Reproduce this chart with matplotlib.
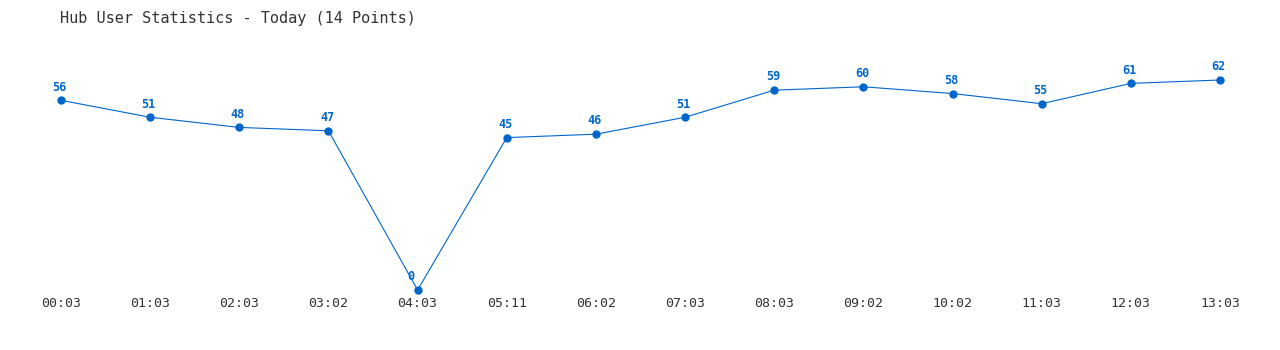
import matplotlib.pyplot as plt

times = ["00:03", "01:03", "02:03", "03:02", "04:03", "05:11", "06:02",
         "07:03", "08:03", "09:02", "10:02", "11:03", "12:03", "13:03"]
users = [56, 51, 48, 47, 0, 45, 46, 51, 59, 60, 58, 55, 61, 62]

blue = "#0066cc"
mono = ["DejaVu Sans Mono"]

fig = plt.figure(figsize=(12.8, 3.5), dpi=100)
ax = fig.add_axes([61 / 1280, 60 / 350, (1220 - 61) / 1280, 210 / 350])

x = list(range(len(users)))
ax.plot(x, users, color=blue, lw=0.8, marker="o", ms=5, clip_on=False)

for xi, v in zip(x, users):
    ax.annotate(str(v), (xi, v), xytext=(-5 if v == 0 else -1, 9.5),
                textcoords="offset points", ha="center", va="center",
                color=blue, fontsize=8.5, fontweight="bold", family=mono)

ax.set_xlim(0, len(users) - 1)
ax.set_ylim(0, 62)
ax.set_xticks(x)
ax.set_xticklabels(times, family=mono, fontsize=9.5, color="#333333")
ax.tick_params(axis="x", length=0, pad=5)
ax.set_yticks([])
for s in ax.spines.values():
    s.set_visible(False)

fig.text(60 / 1280, 1 - 18 / 350, "Hub User Statistics - Today (14 Points)",
         family=mono, fontsize=11, color="#333333", ha="left", va="center")

fig.savefig("out.png", dpi=100)
